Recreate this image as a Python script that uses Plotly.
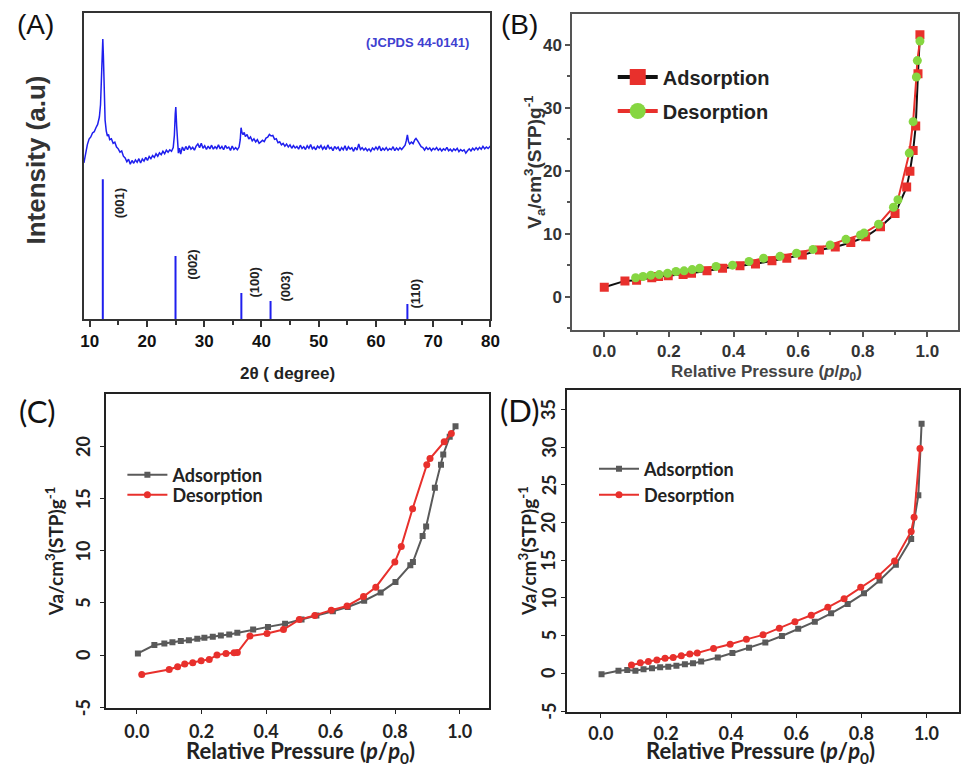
import plotly.graph_objects as go

# ---------------- DATA ----------------
# (A) XRD pattern (intensity in arbitrary units, 0-100 scale)
xrd_x = [9.0, 9.3, 9.6, 9.9, 10.2, 10.5, 10.8, 11.1, 11.4, 11.7, 11.9, 12.05, 12.2, 12.3, 12.4, 12.55, 12.7, 12.9,
         13.1, 13.3, 13.5, 13.8, 14.1, 14.4, 14.7, 15.0, 15.3, 15.6, 15.9, 16.2, 16.5, 16.8, 17.1, 17.4, 17.7, 18.0,
         18.3, 18.6, 18.9, 19.2, 19.5, 19.8, 20.1, 20.4, 20.7, 21.0, 21.3, 21.6, 21.9, 22.2, 22.5, 22.8, 23.1, 23.4,
         23.7, 24.0, 24.3, 24.6, 24.8, 24.95, 25.05, 25.2, 25.35, 25.5, 25.7, 25.9, 26.2, 26.5, 26.8, 27.1, 27.4,
         27.7, 28.0, 28.3, 28.6, 28.9, 29.2, 29.5, 29.8, 30.1, 30.4, 30.7, 31.0, 31.3, 31.6, 31.9, 32.2, 32.5, 32.8,
         33.1, 33.4, 33.7, 34.0, 34.3, 34.6, 34.9, 35.2, 35.5, 35.8, 36.1, 36.3, 36.45, 36.6, 36.8, 37.0, 37.2, 37.5,
         37.8, 38.1, 38.4, 38.7, 39.0, 39.3, 39.6, 39.9, 40.2, 40.5, 40.8, 41.1, 41.4, 41.7, 42.0, 42.3, 42.6, 42.9,
         43.2, 43.5, 43.8, 44.1, 44.4, 44.7, 45.0, 45.3, 45.6, 45.9, 46.2, 46.5, 46.8, 47.1, 47.4, 47.7, 48.0, 48.3,
         48.6, 48.9, 49.2, 49.5, 49.8, 50.1, 50.4, 50.7, 51.0, 51.3, 51.6, 51.9, 52.2, 52.5, 52.8, 53.1, 53.4, 53.7,
         54.0, 54.3, 54.6, 54.9, 55.2, 55.5, 55.8, 56.1, 56.4, 56.7, 57.0, 57.3, 57.6, 57.9, 58.2, 58.5, 58.8, 59.1,
         59.4, 59.7, 60.0, 60.3, 60.6, 60.9, 61.2, 61.5, 61.8, 62.1, 62.4, 62.7, 63.0, 63.3, 63.6, 63.9, 64.2, 64.5,
         64.8, 65.1, 65.3, 65.5, 65.7, 65.9, 66.2, 66.5, 66.8, 67.0, 67.3, 67.6, 67.9, 68.2, 68.5, 68.8, 69.1, 69.4,
         69.7, 70.0, 70.3, 70.6, 70.9, 71.2, 71.5, 71.8, 72.1, 72.4, 72.7, 73.0, 73.3, 73.6, 73.9, 74.2, 74.5, 74.8,
         75.1, 75.4, 75.7, 76.0, 76.3, 76.6, 76.9, 77.2, 77.5, 77.8, 78.1, 78.4, 78.7, 79.0, 79.3, 79.6, 80.0]
xrd_y = [51.0, 54.5, 57.0, 58.8, 59.5, 60.8, 61.2, 62.5, 63.6, 66.0, 70.0, 78.0, 88.0, 91.5, 86.0, 72.0, 65.0, 61.5,
         59.8, 60.3, 58.6, 58.9, 57.4, 57.8, 56.2, 55.6, 54.5, 54.9, 53.2, 52.6, 51.4, 52.2, 50.6, 51.8, 50.9, 52.0,
         51.2, 52.4, 51.0, 52.3, 51.6, 52.8, 51.8, 53.1, 52.4, 53.4, 52.8, 54.0, 53.2, 54.3, 53.7, 54.8, 54.0, 55.2,
         54.5, 55.3, 54.8, 56.0, 60.0, 67.0, 69.3, 63.0, 57.0, 54.2, 55.8, 53.9, 56.2, 55.0, 56.4, 55.3, 56.6,
         55.5, 56.1, 55.2, 56.5, 57.2, 56.0, 57.4, 55.8, 56.6, 55.4, 56.5, 55.6, 56.8, 55.5, 56.3, 55.7, 56.9, 55.6,
         56.4, 55.3, 56.7, 55.8, 56.2, 55.1, 56.5, 55.4, 56.0, 55.3, 56.2, 58.5, 62.5, 61.0, 60.2, 61.0, 59.6, 60.3,
         58.8, 59.5, 58.2, 58.9, 57.9, 58.6, 57.4, 57.9, 58.4, 58.0, 59.1, 59.4, 60.3, 59.8, 60.0, 58.7, 58.9, 57.6,
         57.9, 56.9, 57.4, 56.5, 57.2, 56.2, 56.9, 55.8, 56.7, 55.9, 56.4, 55.5, 56.8, 55.7, 56.3, 55.4, 56.6, 55.8,
         57.0, 55.6, 56.2, 55.3, 56.5, 55.9, 56.7, 55.5, 56.3, 55.4, 56.9, 55.7, 56.1, 55.0, 56.4, 55.6, 56.2, 54.9,
         56.0, 55.3, 56.6, 55.1, 56.3, 55.5, 56.0, 54.8, 56.1, 55.2, 57.2, 55.4, 56.0, 55.2, 55.8, 55.0, 55.6, 54.8,
         55.9, 55.3, 56.2, 55.4, 56.5, 55.0, 55.8, 55.2, 56.0, 55.1, 55.7, 55.3, 56.3, 55.0, 55.9, 55.2, 56.0, 55.4,
         56.2, 56.8, 58.2, 60.2, 58.0, 57.2, 57.8, 57.3, 58.6, 59.0, 58.2, 57.0, 56.3, 56.0, 55.2, 56.1, 55.4, 55.9,
         55.0, 55.8, 55.3, 56.0, 55.1, 55.7, 54.9, 55.6, 55.2, 56.1, 55.0, 55.5, 54.8, 55.6, 55.1, 55.8, 54.7, 55.4,
         54.9, 55.3, 54.2, 55.0, 55.6, 54.9, 55.8, 55.2, 56.0, 55.3, 56.1, 55.5, 56.4, 55.6, 56.2, 55.7, 56.5]

# JCPDS 44-0141 reference lines
ref_pos = [12.3, 25.0, 36.5, 41.6, 65.5]
ref_int = [45.7, 20.6, 8.5, 5.9, 4.9]
ref_hkl = ["(001)", "(002)", "(100)", "(003)", "(110)"]

# (B) isotherm
b_ads_p = [0.0, 0.064, 0.10, 0.147, 0.168, 0.198, 0.244, 0.27, 0.318, 0.366, 0.42, 0.468, 0.519, 0.565, 0.613,
           0.666, 0.715, 0.763, 0.809, 0.855, 0.90, 0.936, 0.946, 0.956, 0.964, 0.971, 0.977]
b_ads_v = [1.5, 2.5, 2.6, 3.0, 3.2, 3.3, 3.5, 3.7, 4.1, 4.5, 4.9, 5.2, 5.7, 6.1, 6.6,
           7.4, 7.9, 8.6, 9.5, 11.1, 13.2, 17.4, 19.9, 23.2, 27.1, 35.4, 41.6]
b_des_p = [0.977, 0.969, 0.966, 0.956, 0.944, 0.909, 0.895, 0.849, 0.804, 0.793, 0.748, 0.699, 0.646, 0.595,
           0.544, 0.493, 0.448, 0.397, 0.346, 0.295, 0.272, 0.247, 0.222, 0.196, 0.17, 0.144, 0.12, 0.097]
b_des_v = [40.6, 37.5, 34.9, 27.8, 22.8, 15.4, 14.2, 11.5, 10.1, 9.8, 9.1, 8.2, 7.5, 6.9,
           6.4, 6.1, 5.6, 5.0, 4.8, 4.5, 4.3, 4.1, 4.0, 3.7, 3.5, 3.4, 3.2, 3.0]

# (C) isotherm
c_ads_p = [0.003, 0.054, 0.085, 0.11, 0.136, 0.161, 0.187, 0.209, 0.235, 0.26, 0.286, 0.311, 0.36, 0.406, 0.459,
           0.51, 0.556, 0.607, 0.653, 0.704, 0.755, 0.801, 0.847, 0.855, 0.885, 0.896, 0.923, 0.942, 0.949, 0.969, 0.987]
c_ads_v = [0.16, 0.96, 1.1, 1.24, 1.34, 1.43, 1.56, 1.66, 1.75, 1.88, 1.97, 2.13, 2.45, 2.7, 3.0,
           3.4, 3.8, 4.2, 4.6, 5.2, 6.0, 7.0, 8.6, 8.9, 11.4, 12.3, 16.0, 18.2, 19.2, 20.9, 21.9]
c_des_p = [0.974, 0.952, 0.908, 0.898, 0.854, 0.819, 0.799, 0.74, 0.702, 0.651, 0.602, 0.551, 0.503, 0.454,
           0.403, 0.35, 0.311, 0.301, 0.276, 0.248, 0.224, 0.199, 0.173, 0.148, 0.126, 0.1, 0.015]
c_des_v = [21.2, 20.4, 18.8, 18.2, 14.0, 10.4, 8.9, 6.5, 5.6, 4.7, 4.3, 3.8, 3.4, 2.45,
           2.07, 1.82, 0.25, 0.22, 0.16, 0.0, -0.41, -0.54, -0.73, -0.86, -1.11, -1.37, -1.85]
c_yticks = [-5, 0, 5, 10, 15, 20, 25]

# (D) isotherm
d_ads_p = [0.002, 0.054, 0.081, 0.106, 0.131, 0.157, 0.182, 0.207, 0.232, 0.258, 0.283, 0.308, 0.359, 0.404,
           0.455, 0.505, 0.556, 0.606, 0.657, 0.707, 0.758, 0.808, 0.856, 0.906, 0.953, 0.975, 0.985]
d_ads_v = [-0.13, 0.35, 0.44, 0.35, 0.53, 0.66, 0.8, 0.88, 1.0, 1.2, 1.33, 1.55, 2.1, 2.7,
           3.4, 4.1, 4.95, 5.9, 6.85, 7.95, 9.2, 10.6, 12.3, 14.4, 17.8, 23.6, 33.1]
d_des_p = [0.98, 0.962, 0.953, 0.902, 0.852, 0.798, 0.747, 0.697, 0.646, 0.596, 0.548, 0.498, 0.447, 0.397,
           0.346, 0.296, 0.273, 0.247, 0.222, 0.197, 0.172, 0.146, 0.121, 0.094]
d_des_v = [29.8, 20.7, 18.8, 14.9, 12.9, 11.4, 9.9, 8.75, 7.7, 6.85, 5.97, 5.1, 4.5, 3.85,
           3.3, 2.7, 2.56, 2.34, 2.1, 1.99, 1.77, 1.55, 1.4, 1.1]
d_yticks = [-5, 0, 5, 10, 15, 20, 25, 30, 35]

# ---------------- FIGURE ----------------
W, H = 971, 766
def px(x): return x / W
def py(y): return 1 - y / H

ARIAL = "Liberation Sans, Arial, sans-serif"
CALI = "Lato, Open Sans, sans-serif"
BLUE = "#1f1fee"
RED = "#e8302c"
GREEN = "#86d641"
GRAY = "#5a5a5a"

fig = go.Figure()

# (A)
fig.add_trace(go.Scatter(x=xrd_x, y=xrd_y, mode="lines", line=dict(color=BLUE, width=1.5),
                         xaxis="x", yaxis="y", showlegend=False))
sx, sy = [], []
for p, h in zip(ref_pos, ref_int):
    sx += [p, p, None]
    sy += [0, h, None]
fig.add_trace(go.Scatter(x=sx, y=sy, mode="lines", line=dict(color=BLUE, width=2),
                         xaxis="x", yaxis="y", showlegend=False))

# (B)
fig.add_trace(go.Scatter(x=b_ads_p, y=b_ads_v, mode="lines+markers", name="Adsorption",
                         line=dict(color="#111111", width=2),
                         marker=dict(symbol="square", size=9, color=RED),
                         xaxis="x2", yaxis="y2", showlegend=False))
fig.add_trace(go.Scatter(x=b_des_p, y=b_des_v, mode="lines+markers", name="Desorption",
                         line=dict(color=RED, width=2),
                         marker=dict(symbol="circle", size=9, color=GREEN),
                         xaxis="x2", yaxis="y2", showlegend=False))
# legend entries for (B) with enlarged symbols
fig.add_trace(go.Scatter(x=[None], y=[None], mode="lines+markers", name="Adsorption",
                         line=dict(color="#111111", width=4),
                         marker=dict(symbol="square", size=16, color=RED),
                         xaxis="x2", yaxis="y2", legend="legend"))
fig.add_trace(go.Scatter(x=[None], y=[None], mode="lines+markers", name="Desorption",
                         line=dict(color=RED, width=4),
                         marker=dict(symbol="circle", size=16, color=GREEN),
                         xaxis="x2", yaxis="y2", legend="legend2"))

# (C)
fig.add_trace(go.Scatter(x=c_ads_p, y=c_ads_v, mode="lines+markers", name="Adsorption",
                         line=dict(color=GRAY, width=2),
                         marker=dict(symbol="square", size=6, color=GRAY),
                         xaxis="x3", yaxis="y3", legend="legend3"))
fig.add_trace(go.Scatter(x=c_des_p, y=c_des_v, mode="lines+markers", name="Desorption",
                         line=dict(color=RED, width=2),
                         marker=dict(symbol="circle", size=7, color=RED),
                         xaxis="x3", yaxis="y3", legend="legend4"))
# (D)
fig.add_trace(go.Scatter(x=d_ads_p, y=d_ads_v, mode="lines+markers", name="Adsorption",
                         line=dict(color=GRAY, width=2),
                         marker=dict(symbol="square", size=6, color=GRAY),
                         xaxis="x4", yaxis="y4", legend="legend5"))
fig.add_trace(go.Scatter(x=d_des_p, y=d_des_v, mode="lines+markers", name="Desorption",
                         line=dict(color=RED, width=2),
                         marker=dict(symbol="circle", size=7, color=RED),
                         xaxis="x4", yaxis="y4", legend="legend6"))

def frame(color, width):
    return dict(showline=True, linecolor=color, linewidth=width, mirror=True,
                showgrid=False, zeroline=False)

tickA = dict(family=ARIAL, size=17, color="#111111")
tickB = dict(family=ARIAL, size=17, color="#333333")
tickC = dict(family=CALI, size=18, color="#222222", weight="bold")

layout = dict(
    width=W, height=H, margin=dict(l=0, r=0, t=0, b=0),
    paper_bgcolor="white", plot_bgcolor="white",
    xaxis=dict(domain=[px(81), px(493)], range=[9, 80], anchor="y",
               tickmode="linear", tick0=10, dtick=10, ticks="outside", ticklen=6, tickwidth=1.5,
               tickcolor="#333", minor=dict(dtick=5, tick0=10, ticks="outside", ticklen=4, tickcolor="#333"),
               tickfont=dict(**tickA, weight="bold"), **frame("#333", 1.5)),
    yaxis=dict(domain=[py(319), py(13)], range=[0, 100], anchor="x",
               showticklabels=False, ticks="", **frame("#333", 1.5)),
    xaxis2=dict(domain=[px(576), px(967)], range=[-0.099, 1.095], anchor="y2",
                tickmode="linear", tick0=0, dtick=0.2, tickformat=".1f", ticks="outside", ticklen=5,
                tickwidth=1.5, tickcolor="#555",
                minor=dict(dtick=0.1, tick0=0, ticks="outside", ticklen=3, tickcolor="#555"),
                tickfont=dict(**tickB, weight="bold"), **frame("#555", 2)),
    yaxis2=dict(domain=[py(330), py(14)], range=[-5.3, 44.9], anchor="x2",
                tickmode="linear", tick0=0, dtick=10, ticks="outside", ticklen=5, tickwidth=1.5,
                tickcolor="#555", minor=dict(dtick=5, tick0=0, ticks="outside", ticklen=3, tickcolor="#555"),
                tickfont=dict(**tickB, weight="bold"), **frame("#555", 2)),
    xaxis3=dict(domain=[px(103), px(492)], range=[-0.097, 1.092], anchor="y3",
                tickmode="linear", tick0=0, dtick=0.2, tickformat=".1f", ticks="outside", ticklen=4,
                ticklabelstandoff=2,
                tickcolor="#222", tickfont=tickC, **frame("#222", 2)),
    yaxis3=dict(domain=[py(708), py(394)], range=[-5.06, 24.98], anchor="x3",
                tickmode="array", tickvals=c_yticks, ticks="outside", ticklen=4, showticklabels=False,
                tickcolor="#222", **frame("#222", 2)),
    xaxis4=dict(domain=[px(571), px(968)], range=[-0.103, 1.1], anchor="y4",
                tickmode="linear", tick0=0, dtick=0.2, tickformat=".1f", ticks="outside", ticklen=4,
                tickcolor="#222", tickfont=tickC, **frame("#222", 2)),
    yaxis4=dict(domain=[py(712), py(390)], range=[-5.13, 37.56], anchor="x4",
                tickmode="array", tickvals=d_yticks, ticks="outside", ticklen=4, showticklabels=False,
                tickcolor="#222", **frame("#222", 2)),
)

def leg(x, y, font):
    return dict(x=px(x), y=py(y), xanchor="left", yanchor="middle", bgcolor="rgba(0,0,0,0)",
                font=font, itemwidth=40, tracegroupgap=0, borderwidth=0)

fontB = dict(family=ARIAL, size=20, color="#222", weight="bold")
fontC = dict(family=CALI, size=18, color="#222", weight="bold")
layout["legend"] = leg(617, 77, fontB)
layout["legend2"] = leg(617, 111, fontB)
layout["legend3"] = leg(120, 475, fontC)
layout["legend4"] = leg(120, 495, fontC)
layout["legend5"] = leg(598, 469, fontC)
layout["legend6"] = leg(598, 495, fontC)
fig.update_layout(**layout)

ann = []
def txt(x, y, text, size, family, color="#111", bold=True, angle=0, xanchor="center", yanchor="middle"):
    ann.append(dict(x=px(x), y=py(y), xref="paper", yref="paper", text=text, showarrow=False,
                    textangle=angle, xanchor=xanchor, yanchor=yanchor,
                    font=dict(family=family, size=size, color=color, weight="bold" if bold else "normal")))

# panel labels
txt(32, 25, "(A)", 28, ARIAL, bold=False)
txt(522, 25, "(B)", 28, ARIAL, bold=False)
txt(34, 411, "(C)", 31, CALI, bold=False)
txt(523, 410, "(D)", 31, CALI, bold=False)

# (A) texts
txt(32, 160, "Intensity (a.u)", 26, ARIAL, color="#333", angle=-90)
txt(287, 373, "2θ ( degree)", 17, ARIAL, color="#222")
ann.append(dict(x=67.3, y=90.2, xref="x", yref="y", text="(JCPDS 44-0141)", showarrow=False,
                font=dict(family=ARIAL, size=13, color="#4040d0", weight="bold")))
hkl_label_dx = [2.9, 3.0, 2.3, 2.6, 1.4]
hkl_label_y = [32.4, 12.1, 6.2, 5.2, 2.9]
for p, lab, ddx, ly in zip(ref_pos, ref_hkl, hkl_label_dx, hkl_label_y):
    ann.append(dict(x=p + ddx, y=ly, xref="x", yref="y", text=lab, showarrow=False, textangle=-90,
                    xanchor="center", yanchor="bottom",
                    font=dict(family=ARIAL, size=13, color="#222", weight="bold")))

# (B) titles
txt(537, 162, "V<sub>a</sub>/cm<sup>3</sup>(STP)g<sup>-1</sup>", 19, ARIAL, color="#333", angle=-90)
txt(773, 373, "Relative Pressure (<i>p</i>/<i>p</i><sub>0</sub>)", 17, ARIAL, color="#444")

# (C) titles and rotated y tick labels
txt(51, 551, "Va/cm<sup>3</sup>(STP)g<sup>-1</sup>", 19, CALI, color="#222", angle=-90)
txt(301, 752, "Relative Pressure (<i>p</i>/<i>p</i><sub>0</sub>)", 22, CALI, color="#222")
for v in c_yticks:
    ann.append(dict(x=px(80), y=v, xref="paper", yref="y3", text=str(v), showarrow=False, textangle=-90,
                    xanchor="center", yanchor="middle",
                    font=dict(family=CALI, size=18, color="#222", weight="bold")))
# (D) titles and rotated y tick labels
txt(767, 752, "Relative Pressure (<i>p</i>/<i>p</i><sub>0</sub>)", 22, CALI, color="#222")
txt(530, 551, "Va/cm<sup>3</sup>(STP)g<sup>-1</sup>", 19, CALI, color="#222", angle=-90)
for v in d_yticks:
    ann.append(dict(x=px(552), y=v, xref="paper", yref="y4", text=str(v), showarrow=False, textangle=-90,
                    xanchor="center", yanchor="middle",
                    font=dict(family=CALI, size=18, color="#222", weight="bold")))

fig.update_layout(annotations=ann)
fig.write_html("out.html", config={"displayModeBar": False},
               post_script="document.body.style.margin='0';document.body.style.overflow='hidden';")
